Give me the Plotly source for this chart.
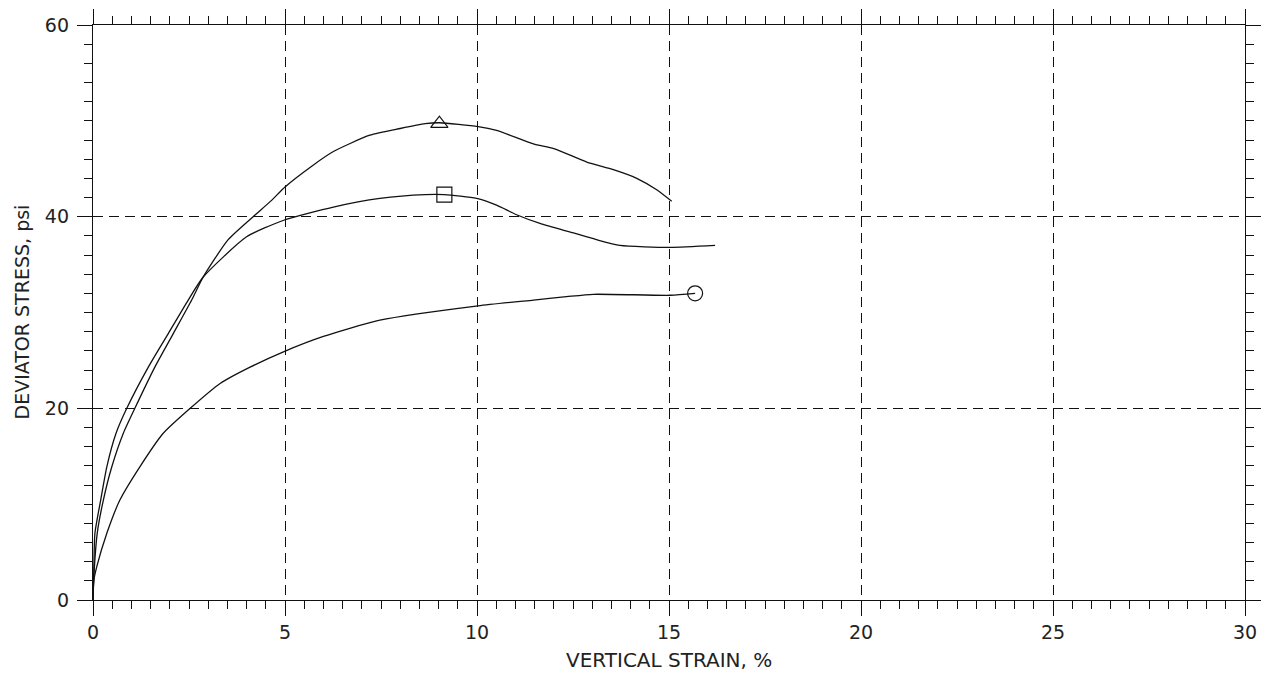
import plotly.graph_objects as go

# Vertical strain (%) and deviator stress (psi)
tri_x = [0, 0.03, 0.11, 0.27, 0.49, 0.79, 1.09, 1.61, 2.09, 2.57, 2.87, 3.52, 4.17, 4.65, 5.0, 5.74, 6.26,
         7.21, 8.0, 8.65, 9.02, 10.03, 10.51, 11.47, 12.0, 12.86, 13.55, 14.16, 14.68, 15.07]
tri_y = [0, 3, 6.96, 10.43, 13.9, 17.4, 20, 24.3, 27.8, 31.3, 33.7, 37.6, 40, 41.7, 43.1, 45.4, 46.8,
         48.5, 49.2, 49.7, 49.8, 49.4, 49.0, 47.6, 47.1, 45.7, 44.9, 44.0, 42.8, 41.6]

sq_x = [0, 0.02, 0.05, 0.2, 0.36, 0.6, 0.88, 1.44, 1.96, 2.48, 2.87, 4.0, 4.95, 6.26, 7.47, 8.65, 9.15,
        9.99, 10.51, 11.03, 11.64, 12.51, 13.11, 13.72, 15.03, 16.2]
sq_y = [0, 3, 6.96, 10.43, 13.9, 17.4, 20, 24.3, 27.8, 31.3, 33.7, 37.9, 39.6, 41.0, 41.9, 42.3, 42.3,
        41.9, 41.2, 40.2, 39.3, 38.3, 37.6, 37.0, 36.8, 37.0]

cir_x = [0, 0.02, 0.1, 0.36, 0.7, 1.22, 1.83, 2.53, 3.31, 4.09, 4.96, 6.0, 7.47, 10.03, 11.47, 12.33,
         13.03, 15.03, 15.68]
cir_y = [0, 2, 3.5, 6.96, 10.43, 13.9, 17.4, 20, 22.6, 24.3, 25.9, 27.5, 29.2, 30.7, 31.3, 31.65,
         31.9, 31.8, 32.0]

# Peak / end markers
mark_x = [9.02, 9.15, 15.68]
mark_y = [49.7, 42.3, 32.0]
mark_sym = ["triangle-up-open", "square-open", "circle-open"]

x_ticks = [0, 5, 10, 15, 20, 25, 30]
y_ticks = [0, 20, 40, 60]
x_title = "VERTICAL STRAIN, %"
y_title = "DEVIATOR STRESS, psi"

fig = go.Figure()
for xs, ys in [(tri_x, tri_y), (sq_x, sq_y), (cir_x, cir_y)]:
    fig.add_trace(go.Scatter(x=xs, y=ys, mode="lines",
                             line=dict(color="#111", width=1.3, shape="spline", smoothing=0.6),
                             showlegend=False, hoverinfo="skip"))
for mx, my, ms in zip(mark_x, mark_y, mark_sym):
    fig.add_trace(go.Scatter(x=[mx], y=[my], mode="markers",
                             marker=dict(symbol=ms, size=15, color="#111",
                                         line=dict(width=1.2, color="#111")),
                             showlegend=False, hoverinfo="skip"))

font_family = "DejaVu Sans, Liberation Sans, sans-serif"
grid_dash = "10px,6px"
# page has an 8px body margin; figure sized to fit the window
W, H = 1262, 668
L, R, T, B = 85, 25, 17, 76
fig.update_layout(
    width=W, height=H,
    margin=dict(l=L, r=R, t=T, b=B, autoexpand=False),
    paper_bgcolor="white", plot_bgcolor="white",
    font=dict(family=font_family, color="#222"),
    xaxis=dict(range=[0, 30], tickvals=x_ticks, ticktext=[str(v) for v in x_ticks],
               automargin=False,
               showline=True, linecolor="#111", linewidth=1.3, mirror="allticks",
               ticks="outside", ticklen=15, tickwidth=1.2, tickcolor="#111",
               tickfont=dict(size=19, color="#222"),
               showgrid=True, gridcolor="#111", gridwidth=1, griddash=grid_dash,
               zeroline=False,
               minor=dict(dtick=0.5, ticks="outside", ticklen=8, tickwidth=1, tickcolor="#111",
                          showgrid=False)),
    yaxis=dict(range=[0, 60], tickvals=y_ticks, ticktext=[str(v) for v in y_ticks],
               automargin=False,
               showline=True, linecolor="#111", linewidth=1.3, mirror="allticks",
               ticks="outside", ticklen=15, tickwidth=1.2, tickcolor="#111",
               tickfont=dict(size=19, color="#222"), ticklabelstandoff=4,
               showgrid=True, gridcolor="#111", gridwidth=1, griddash=grid_dash,
               zeroline=False,
               minor=dict(dtick=2, ticks="outside", ticklen=8, tickwidth=1, tickcolor="#111",
                          showgrid=False)),
)
plot_h = H - T - B
fig.add_annotation(text=x_title, xref="paper", yref="paper", x=0.5, y=-(652 - (H - B)) / plot_h,
                   xanchor="center", yanchor="middle", showarrow=False,
                   font=dict(size=20, color="#222", family=font_family))
fig.add_annotation(text=y_title, xref="paper", yref="paper", x=-(L - 13) / (W - L - R), y=0.5,
                   xanchor="center", yanchor="middle", textangle=-90, showarrow=False,
                   font=dict(size=19, color="#222", family=font_family))

fig.write_html("out.html")
